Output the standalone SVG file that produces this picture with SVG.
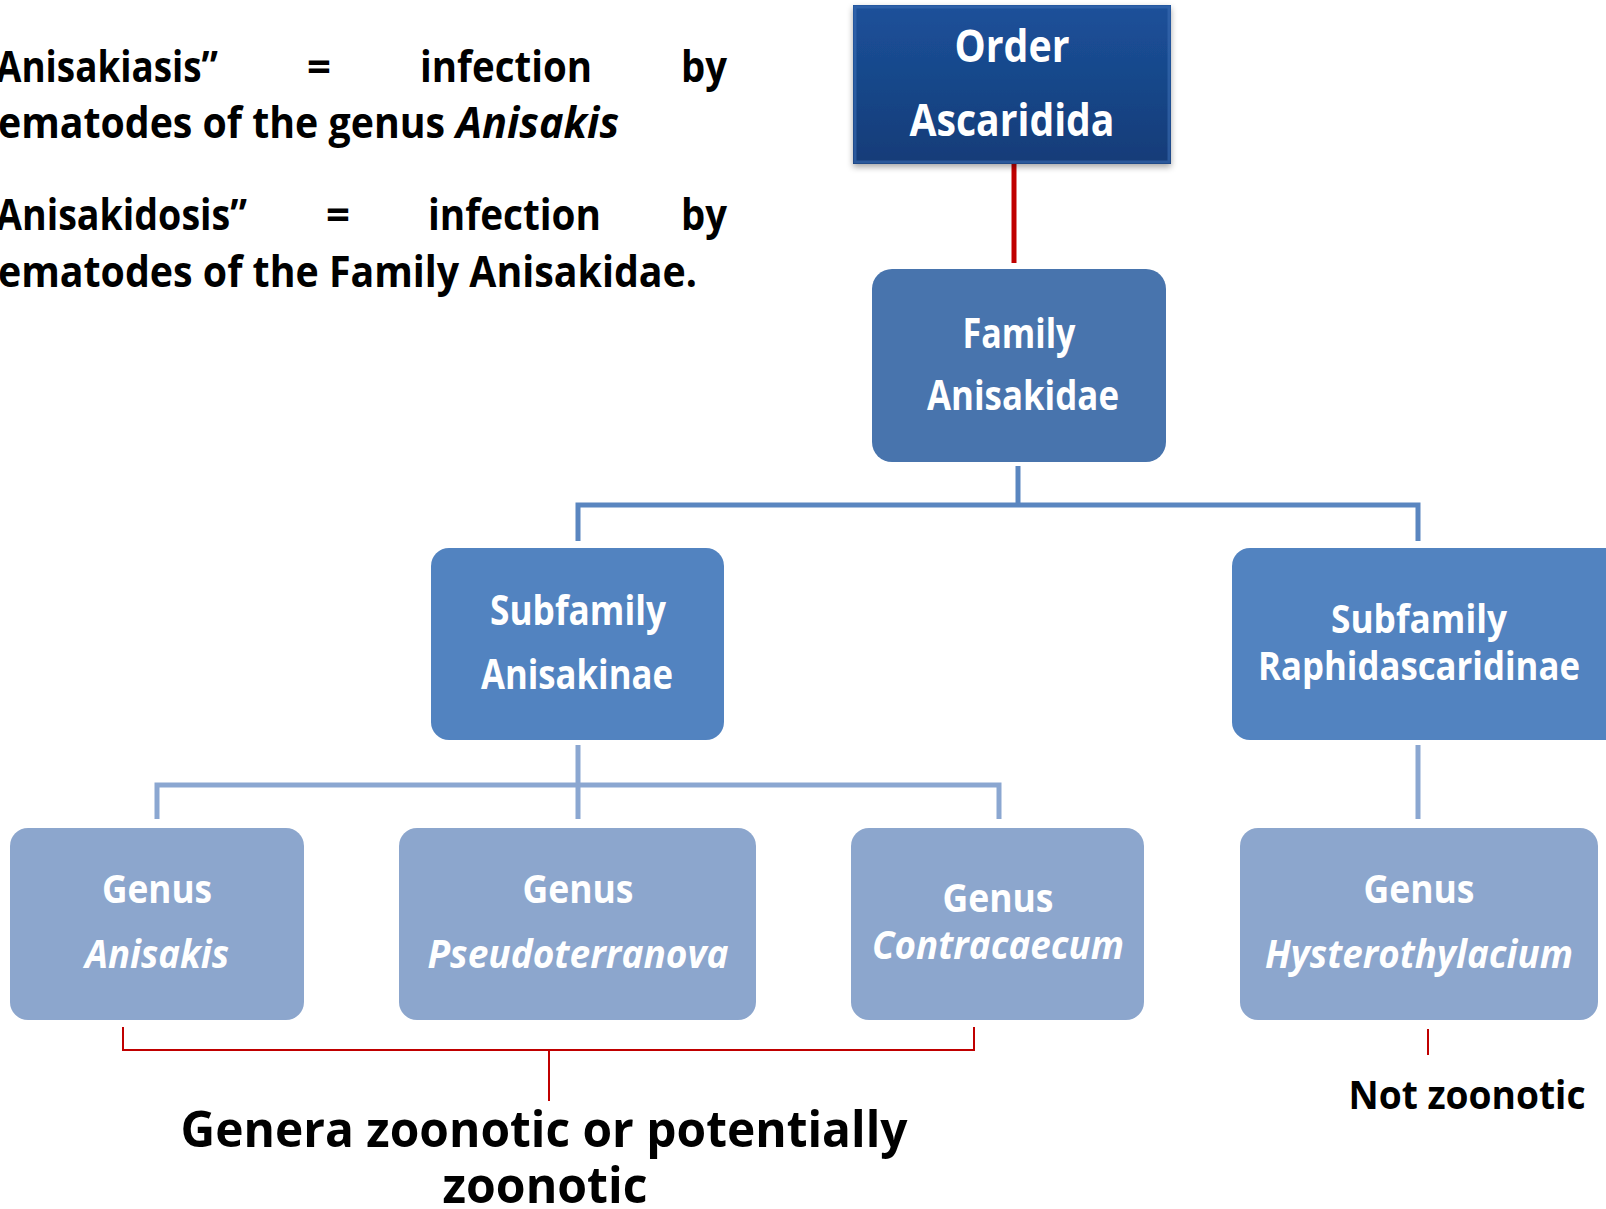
<svg xmlns="http://www.w3.org/2000/svg" width="1606" height="1209" viewBox="0 0 1606 1209">
<style>
.t{font-family:"Open Sans","Noto Sans","Liberation Sans",sans-serif;font-weight:700}
.w{fill:#ffffff}
.k{fill:#000000}
.it{font-style:italic}
.c1{stroke:#5a86c0;stroke-width:5;fill:none}
.c2{stroke:#8ba7d1;stroke-width:5;fill:none}
.r{stroke:#c00000;fill:none}
</style>
<defs>
<linearGradient id="og" x1="0" y1="0" x2="0" y2="1">
<stop offset="0" stop-color="#1c519a"/>
<stop offset="1" stop-color="#133c78"/>
</linearGradient>
<filter id="sh" x="-10%" y="-10%" width="120%" height="130%">
<feDropShadow dx="0" dy="3" stdDeviation="3" flood-color="#000" flood-opacity="0.35"/>
</filter>
</defs>

<g id="intro" class="t k">
<text x="-4" y="82" font-size="43" textLength="222" lengthAdjust="spacingAndGlyphs">Anisakiasis”</text>
<text x="307" y="82" font-size="43" textLength="24" lengthAdjust="spacingAndGlyphs">=</text>
<text x="420" y="82" font-size="43" textLength="172" lengthAdjust="spacingAndGlyphs">infection</text>
<text x="681" y="82" font-size="43" textLength="46" lengthAdjust="spacingAndGlyphs">by</text>
<text x="-2" y="138" font-size="43" textLength="447" lengthAdjust="spacingAndGlyphs">ematodes of the genus</text>
<text x="456" y="138" font-size="43" class="it" textLength="163" lengthAdjust="spacingAndGlyphs">Anisakis</text>
<text x="-4" y="230" font-size="43" textLength="251" lengthAdjust="spacingAndGlyphs">Anisakidosis”</text>
<text x="326" y="230" font-size="43" textLength="24" lengthAdjust="spacingAndGlyphs">=</text>
<text x="428" y="230" font-size="43" textLength="173" lengthAdjust="spacingAndGlyphs">infection</text>
<text x="681" y="230" font-size="43" textLength="46" lengthAdjust="spacingAndGlyphs">by</text>
<text x="-2" y="287" font-size="43" textLength="699" lengthAdjust="spacingAndGlyphs">ematodes of the Family Anisakidae.</text>
</g>

<g id="connectors">
<line class="r" x1="1014" y1="164" x2="1014" y2="263" stroke-width="5"/>
<polyline class="c1" points="1018,466 1018,505"/>
<polyline class="c1" points="578,541 578,505 1418,505 1418,541"/>
<polyline class="c2" points="578,745 578,819"/>
<polyline class="c2" points="157,819 157,785 999,785 999,819"/>
<polyline class="c2" points="1418,745 1418,819"/>
<polyline class="r" stroke-width="2" points="123,1027 123,1050 974,1050 974,1027"/>
<line class="r" stroke-width="2" x1="549" y1="1050" x2="549" y2="1101"/>
<line class="r" stroke-width="2" x1="1428" y1="1029" x2="1428" y2="1055"/>
</g>

<g id="order">
<rect x="853" y="5" width="318" height="159" fill="url(#og)" filter="url(#sh)"/>
<rect x="855" y="7" width="314" height="155" fill="none" stroke="#3a6db3" stroke-width="3" opacity="0.6"/>
<text class="t w" x="1012" y="62" font-size="44" text-anchor="middle" textLength="115" lengthAdjust="spacingAndGlyphs">Order</text>
<text class="t w" x="1012" y="136" font-size="44" text-anchor="middle" textLength="205" lengthAdjust="spacingAndGlyphs">Ascaridida</text>
</g>

<g id="family">
<rect x="872" y="269" width="294" height="193" rx="20" fill="#4874ad"/>
<text class="t w" x="1019" y="348" font-size="42" text-anchor="middle" textLength="113" lengthAdjust="spacingAndGlyphs">Family</text>
<text class="t w" x="1023" y="410" font-size="42" text-anchor="middle" textLength="192" lengthAdjust="spacingAndGlyphs">Anisakidae</text>
</g>

<g id="sub-anisakinae">
<rect x="431" y="548" width="293" height="192" rx="18" fill="#5283c0"/>
<text class="t w" x="578" y="625" font-size="42" text-anchor="middle" textLength="176" lengthAdjust="spacingAndGlyphs">Subfamily</text>
<text class="t w" x="577" y="689" font-size="42" text-anchor="middle" textLength="192" lengthAdjust="spacingAndGlyphs">Anisakinae</text>
</g>

<g id="sub-raphidascaridinae">
<rect x="1232" y="548" width="400" height="192" rx="18" fill="#5283c0"/>
<text class="t w" x="1419" y="633" font-size="40" text-anchor="middle" textLength="176" lengthAdjust="spacingAndGlyphs">Subfamily</text>
<text class="t w" x="1419" y="680" font-size="40" text-anchor="middle" textLength="322" lengthAdjust="spacingAndGlyphs">Raphidascaridinae</text>
</g>

<g id="genus-anisakis">
<rect x="10" y="828" width="294" height="192" rx="18" fill="#8ca6cd"/>
<text class="t w" x="157" y="903" font-size="40" text-anchor="middle" textLength="110" lengthAdjust="spacingAndGlyphs">Genus</text>
<text class="t w it" x="157" y="968" font-size="40" text-anchor="middle" textLength="144" lengthAdjust="spacingAndGlyphs">Anisakis</text>
</g>

<g id="genus-pseudoterranova">
<rect x="399" y="828" width="357" height="192" rx="18" fill="#8ca6cd"/>
<text class="t w" x="578" y="903" font-size="40" text-anchor="middle" textLength="111" lengthAdjust="spacingAndGlyphs">Genus</text>
<text class="t w it" x="578" y="968" font-size="40" text-anchor="middle" textLength="301" lengthAdjust="spacingAndGlyphs">Pseudoterranova</text>
</g>

<g id="genus-contracaecum">
<rect x="851" y="828" width="293" height="192" rx="18" fill="#8ca6cd"/>
<text class="t w" x="998" y="912" font-size="40" text-anchor="middle" textLength="111" lengthAdjust="spacingAndGlyphs">Genus</text>
<text class="t w it" x="998" y="959" font-size="40" text-anchor="middle" textLength="252" lengthAdjust="spacingAndGlyphs">Contracaecum</text>
</g>

<g id="genus-hysterothylacium">
<rect x="1240" y="828" width="358" height="192" rx="18" fill="#8ca6cd"/>
<text class="t w" x="1419" y="903" font-size="40" text-anchor="middle" textLength="111" lengthAdjust="spacingAndGlyphs">Genus</text>
<text class="t w it" x="1419" y="968" font-size="40" text-anchor="middle" textLength="308" lengthAdjust="spacingAndGlyphs">Hysterothylacium</text>
</g>

<g id="label-zoonotic" class="t k">
<text x="544" y="1147" font-size="50" text-anchor="middle" textLength="727" lengthAdjust="spacingAndGlyphs">Genera zoonotic or potentially</text>
<text x="545" y="1203" font-size="50" text-anchor="middle" textLength="205" lengthAdjust="spacingAndGlyphs">zoonotic</text>
</g>

<g id="label-not-zoonotic" class="t k">
<text x="1467" y="1109" font-size="40" text-anchor="middle" textLength="237" lengthAdjust="spacingAndGlyphs">Not zoonotic</text>
</g>
</svg>
